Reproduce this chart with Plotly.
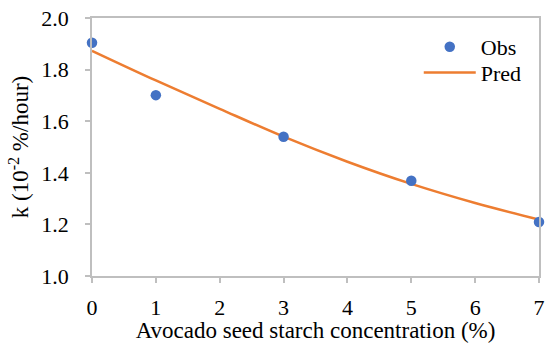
import plotly.graph_objects as go

obs_x = [0, 1, 3, 5, 7]
obs_y = [1.904, 1.701, 1.540, 1.369, 1.209]
pred_x = [0, 1, 2, 3, 4, 5, 6, 7]
pred_y = [1.873, 1.758, 1.648, 1.540, 1.443, 1.357, 1.283, 1.219]
x_ticks = [0, 1, 2, 3, 4, 5, 6, 7]
y_ticks = [1.0, 1.2, 1.4, 1.6, 1.8, 2.0]

FONT = "Liberation Serif, Times New Roman, Times, serif"

fig = go.Figure()
fig.add_trace(go.Scatter(x=pred_x, y=pred_y, mode="lines", name="Pred",
                         line=dict(color="#ED7D31", width=2.5, shape="spline"),
                         showlegend=False, cliponaxis=False))
fig.add_trace(go.Scatter(x=obs_x, y=obs_y, mode="markers", name="Obs",
                         marker=dict(color="#4472C4", size=10.5), cliponaxis=False,
                         legend="legend"))
fig.add_trace(go.Scatter(x=[None], y=[None], mode="lines", name="Pred",
                         line=dict(color="#ED7D31", width=2.5), legend="legend2"))

axis_common = dict(showline=True, linecolor="#BFBFBF", linewidth=1.5, mirror=True,
                   ticks="outside", tickcolor="#BFBFBF", ticklen=5, tickwidth=1.5,
                   showgrid=False, zeroline=False,
                   tickfont=dict(family=FONT, size=22, color="#000"))

leg_common = dict(xanchor="left", yanchor="top", bgcolor="rgba(0,0,0,0)",
                  font=dict(family=FONT, size=22), itemwidth=52)

fig.update_layout(
    width=551, height=343,
    margin=dict(l=92, r=6, t=16, b=67),
    paper_bgcolor="white", plot_bgcolor="white",
    font=dict(family=FONT, size=22, color="#000"),
    xaxis=dict(range=[0, 7], tickvals=x_ticks, ticktext=[str(v) for v in x_ticks],
               ticklabelstandoff=6,
               title=dict(text="Avocado seed starch concentration (%)",
                          font=dict(family=FONT, size=23), standoff=0), **axis_common),
    yaxis=dict(range=[1.0, 2.0], tickvals=y_ticks, ticktext=[f"{v:.1f}" for v in y_ticks],
               ticklabelstandoff=12,
               title=dict(text="k (10<sup>-2</sup> %/hour)", font=dict(family=FONT, size=23),
                          standoff=6),
               **axis_common),
    legend=dict(x=0.731, y=0.969, **leg_common),
    legend2=dict(x=0.731, y=0.869, **leg_common),
)

fig.write_html("out.html")
